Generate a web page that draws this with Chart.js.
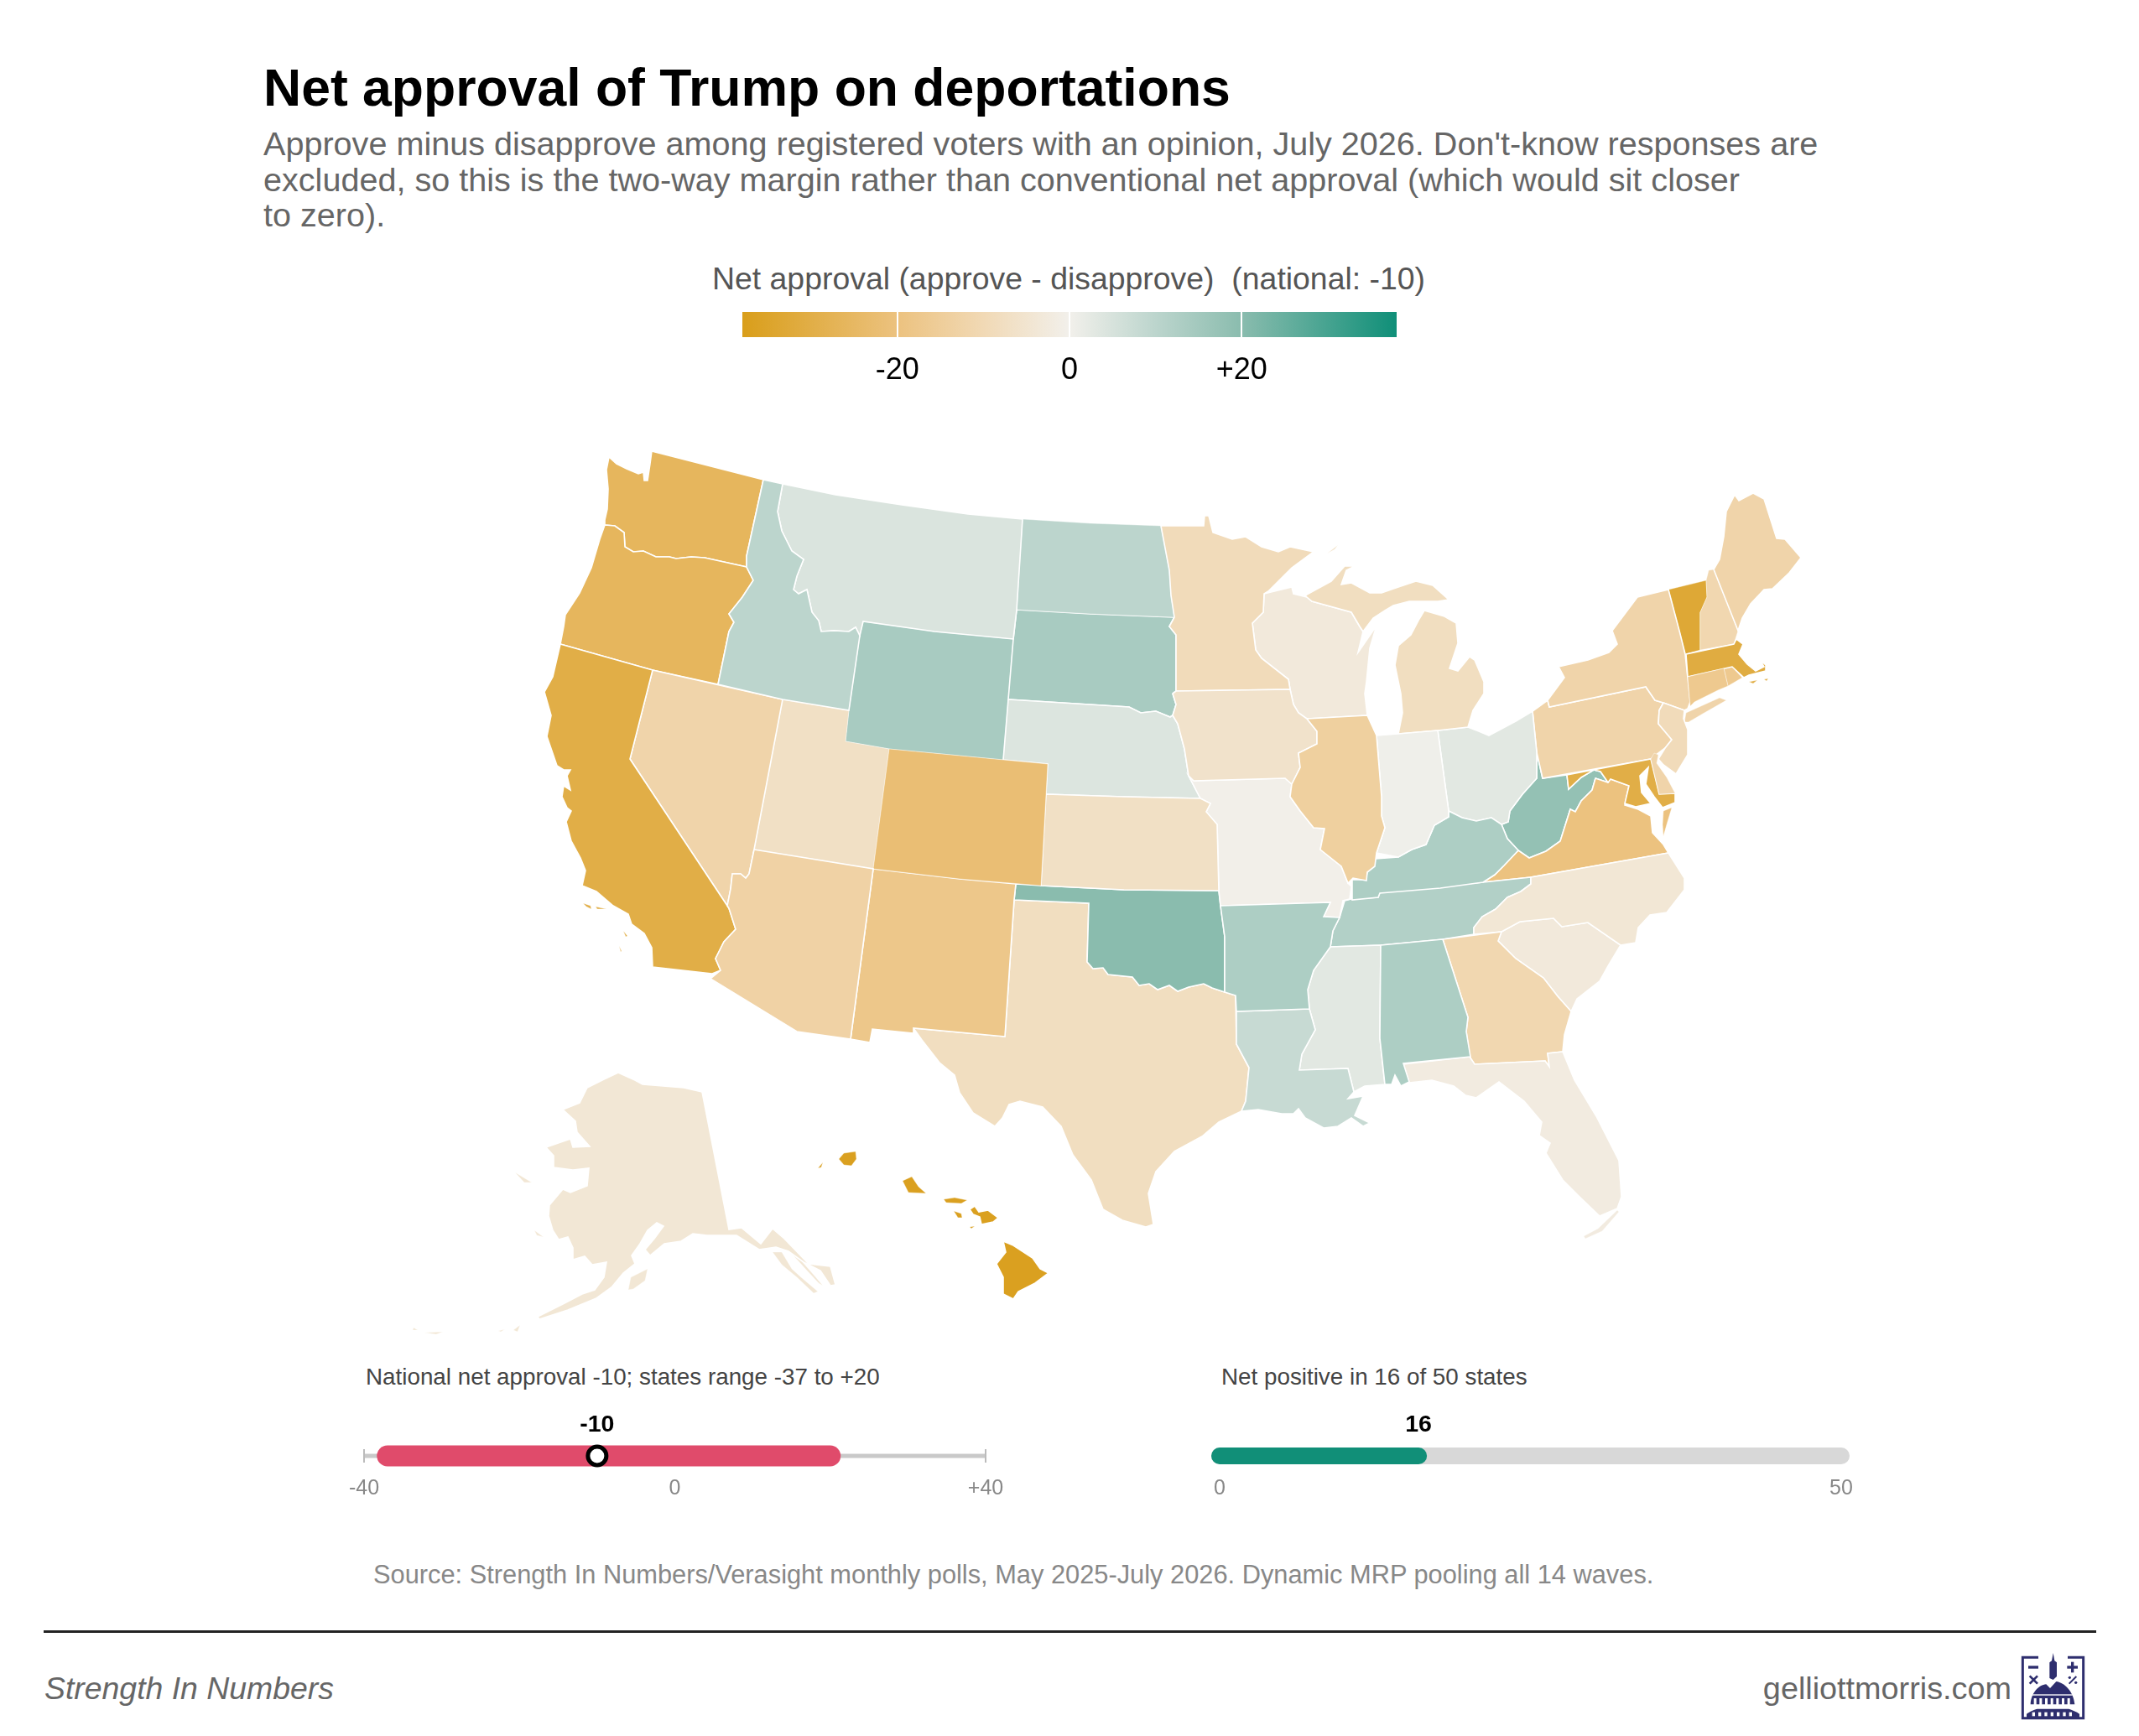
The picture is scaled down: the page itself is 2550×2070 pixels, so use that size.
<!DOCTYPE html>
<html>
<head>
<meta charset="utf-8">
<title>Net approval of Trump on deportations</title>
<script src="https://cdn.jsdelivr.net/npm/chart.js@4"></script>
<style>
html, body { margin: 0; padding: 0; background: #fff; }
body { position: relative; width: 2550px; height: 2070px; overflow: hidden; font-family: "Liberation Sans", Arial, sans-serif; }
canvas { position: absolute; display: block; }
.txt { position: absolute; white-space: pre; line-height: 1; transform: translateY(-50%); }
#title { left: 314px; top: 104px; font-size: 62.5px; font-weight: bold; color: #000; }
.sub { left: 314px; font-size: 39.6px; color: #666; }
#legendTitle { left: 849px; top: 333px; font-size: 37.4px; color: #555; }
.cap { font-size: 27.8px; color: #444; top: 1642px; }
#source { left: 445px; top: 1878px; font-size: 30.8px; color: #888; }
#rule { position: absolute; left: 52px; top: 1944px; width: 2447px; height: 3px; background: #222; }
#brand { left: 53px; top: 2014px; font-size: 37.4px; font-style: italic; color: #666; }
#site { right: 152px; top: 2014px; font-size: 37.8px; color: #666; }
#logo { position: absolute; left: 2410px; top: 1975px; width: 75px; height: 75px; }
</style>
</head>
<body>
<div class="txt" id="title">Net approval of Trump on deportations</div>
<div class="txt sub" style="top:172px">Approve minus disapprove among registered voters with an opinion, July 2026. Don't-know responses are</div>
<div class="txt sub" style="top:215px">excluded, so this is the two-way margin rather than conventional net approval (which would sit closer</div>
<div class="txt sub" style="top:257px">to zero).</div>
<div class="txt" id="legendTitle">Net approval (approve - disapprove)  (national: -10)</div>

<canvas id="legendBar" width="780" height="98" style="left:885px;top:372px"></canvas>
<canvas id="map" width="1800" height="1100" style="left:380px;top:520px"></canvas>

<div class="txt cap" style="left:436px">National net approval -10; states range -37 to +20</div>
<div class="txt cap" style="left:1456px">Net positive in 16 of 50 states</div>
<canvas id="rangeBar" width="861" height="124" style="left:374px;top:1676px"></canvas>
<canvas id="countBar" width="861" height="124" style="left:1394px;top:1676px"></canvas>

<div class="txt" id="source">Source: Strength In Numbers/Verasight monthly polls, May 2025-July 2026. Dynamic MRP pooling all 14 waves.</div>
<div id="rule"></div>
<div class="txt" id="brand">Strength In Numbers</div>
<div class="txt" id="site">gelliottmorris.com</div>
<svg id="logo" viewBox="0 0 225 225" overflow="visible">
  <g fill="#2e2e6e">
    <path d="M60 4H4V221H221V4H165" fill="none" stroke="#2e2e6e" stroke-width="9"/>
    <rect x="24" y="34" width="36" height="10"/>
    <rect x="163" y="34" width="38" height="10"/><rect x="177" y="20" width="10" height="38"/>
    <path d="M29 70l28 28M57 70l-28 28" stroke="#2e2e6e" stroke-width="8"/>
    <path d="M170 98l26-26" stroke="#2e2e6e" stroke-width="6"/><circle cx="172" cy="76" r="5"/><circle cx="194" cy="94" r="5"/>
    <path d="M113-12l5 28 8 6v50l-13 12-13-6V22l8-6z"/>
    <path d="M32 172c2-42 30-70 56-72l14 14 22-24c30 4 62 36 66 82z"/>
    <path d="M18 206c14-10 30-16 38-18h113c10 3 28 10 38 18v13H18z"/>
  </g>
  <g fill="#fff">
    <rect x="44" y="150" width="9" height="30"/><rect x="64" y="150" width="9" height="30"/><rect x="84" y="150" width="9" height="30"/><rect x="104" y="150" width="9" height="30"/><rect x="124" y="150" width="9" height="30"/><rect x="144" y="150" width="9" height="30"/><rect x="164" y="150" width="9" height="30"/>
    <rect x="38" y="136" width="144" height="4"/>
    <rect x="38" y="200" width="10" height="14"/><rect x="60" y="200" width="10" height="14"/><rect x="82" y="200" width="10" height="14"/><rect x="104" y="200" width="10" height="14"/><rect x="126" y="200" width="10" height="14"/><rect x="148" y="200" width="10" height="14"/><rect x="170" y="200" width="10" height="14"/>
  </g>
</svg>

<script>
// net approval per state
var stateNames = ['AL','AK','AZ','AR','CA','CO','CT','DE','FL','GA','HI','ID','IL','IN','IA','KS','KY','LA','ME','MD','MA','MI','MN','MS','MO','MT','NE','NV','NH','NJ','NM','NY','NC','ND','OH','OK','OR','PA','RI','SC','SD','TN','TX','UT','VT','VA','WA','WV','WI','WY'];
var netApproval = [13,-4,-13,13,-30,-22,-17,-12,-2,-11,-37,10,-14,0.5,-6,-7,13,8,-12,-30,-31,-8,-9,3,-0.4,4.5,4,-12,-11,-9,-18,-12,-4,10,3,20,-26,-12,-17,-3,14,12,-8,-7,-33,-20,-26,18,-3,14];

// colour ramp of the legend
var rampValues = [-38,-20,-10,0,10,20,38];
var rampColors = ['#d99e1a','#ecc27f','#f1d9b5','#f2f0eb','#bcd5cd','#8abcae','#0f8f78'];
var legendTicks = [-20,0,20];

// bullet strips
var nationalNet = -10;
var stateRange = [-37,20];
var rangeAxis = [-40,40];
var rangeTicks = [-40,0,40];
var positiveStates = 16;
var stateCount = 50;
var countTicks = [0,50];

// state outlines, flat x,y lists in map units, one list per land piece
var stateOutlines = {
 WA:[[726,545,735,553,747,559,761,565,767,563,768,573,772,573,775,553,777,538,910,572,890,663,890,676,840,665,824,664,806,666,798,664,782,664,767,657,755,658,745,652,744,635,733,627,721,626,721,620,724,607,725,583,723,560]],
 OR:[[721,626,733,627,744,635,745,652,755,658,767,657,782,664,798,664,806,666,824,664,840,665,890,676,898,692,885,712,869,732,875,742,869,753,856,816,778,799,668,768,672,747,674,733,691,707,705,677,715,643]],
 CA:[[668,768,778,799,751,905,867,1080,869,1083,877,1108,863,1123,853,1143,859,1157,849,1161,778,1153,777,1130,768,1113,753,1102,749,1090,731,1080,711,1063,694,1056,698,1038,692,1023,681,1003,675,980,681,967,676,963,670,950,672,937,680,942,676,925,680,918,672,918,664,913,652,878,657,853,649,825,659,807],[695,1077,704,1080,705,1084,699,1081],[710,1081,723,1084,712,1084],[743,1110,748,1116,746,1117],[738,1128,741,1134,740,1135]],
 NV:[[778,799,933,834,899,1013,893,1042,889,1047,883,1042,873,1042,871,1060,867,1080,751,905]],
 ID:[[910,572,933,577,927,610,932,633,944,657,958,667,950,687,946,703,952,708,962,703,968,730,976,740,979,753,994,752,1012,753,1020,748,1025,758,1012,847,933,834,856,816,869,753,875,742,869,732,885,712,898,692,890,676,890,663]],
 MT:[[933,577,996,590,1075,602,1154,613,1219,619,1212,727,1208,762,1114,753,1029,741,1025,758,1020,748,1012,753,994,752,979,753,976,740,968,730,962,703,952,708,946,703,950,687,958,667,944,657,932,633,927,610]],
 WY:[[1029,741,1114,753,1208,762,1196,906,1060,893,1008,884,1012,847,1025,758]],
 UT:[[933,834,1012,847,1008,884,1060,893,1041,1036,899,1013]],
 CO:[[1060,893,1196,906,1249,911,1241,1056,1144,1048,1041,1036]],
 AZ:[[899,1013,1041,1036,1014,1239,950,1230,847,1167,859,1157,853,1143,863,1123,877,1108,869,1083,867,1080,871,1060,873,1042,883,1042,889,1047,893,1042]],
 NM:[[1041,1036,1144,1048,1211,1054,1209,1073,1198,1236,1089,1226,1089,1232,1040,1227,1037,1243,1014,1239]],
 ND:[[1219,619,1300,624,1384,627,1394,680,1396,710,1400,736,1300,732,1212,727]],
 SD:[[1212,727,1300,732,1400,736,1394,747,1402,757,1402,824,1398,827,1402,840,1398,853,1395,855,1378,848,1360,850,1346,843,1202,834,1208,762]],
 NE:[[1202,834,1346,843,1360,850,1378,848,1395,855,1398,853,1404,863,1412,893,1417,925,1431,952,1340,950,1247,947,1249,911,1196,906]],
 KS:[[1247,947,1340,950,1431,952,1443,958,1438,968,1451,983,1453,1062,1340,1061,1241,1056]],
 OK:[[1211,1054,1241,1056,1340,1061,1453,1062,1455,1080,1460,1117,1460,1183,1445,1178,1435,1173,1417,1177,1404,1182,1394,1175,1380,1180,1370,1173,1358,1175,1350,1165,1321,1162,1315,1154,1303,1155,1296,1147,1298,1077,1209,1073]],
 TX:[[1209,1073,1298,1077,1296,1147,1303,1155,1315,1154,1321,1162,1350,1165,1358,1175,1370,1173,1380,1180,1394,1175,1404,1182,1417,1177,1435,1173,1445,1178,1460,1183,1473,1187,1474,1245,1489,1273,1485,1313,1480,1325,1453,1338,1433,1355,1400,1373,1378,1397,1369,1423,1375,1460,1366,1463,1338,1455,1315,1442,1301,1407,1279,1377,1265,1343,1243,1320,1216,1313,1203,1317,1195,1333,1186,1343,1160,1327,1144,1303,1138,1282,1120,1267,1099,1240,1089,1226,1198,1236]],
 MN:[[1384,627,1435,627,1436,615,1441,615,1446,635,1469,643,1485,640,1504,652,1524,658,1538,652,1566,658,1540,677,1512,705,1507,708,1506,730,1493,743,1497,775,1504,785,1536,810,1538,822,1402,824,1402,757,1394,747,1400,736,1396,710,1394,680]],
 IA:[[1398,827,1402,824,1538,822,1542,840,1548,850,1558,857,1570,872,1570,887,1548,898,1550,915,1540,935,1532,928,1423,931,1417,925,1412,893,1404,863,1398,853,1402,840]],
 MO:[[1423,931,1532,928,1540,935,1538,950,1550,967,1566,987,1579,988,1574,1013,1599,1033,1607,1053,1611,1057,1609,1072,1601,1074,1597,1094,1578,1093,1586,1076,1455,1080,1453,1062,1451,983,1438,968,1443,958,1431,952,1417,925]],
 AR:[[1455,1080,1586,1076,1578,1093,1597,1094,1589,1110,1586,1129,1566,1157,1559,1180,1561,1203,1474,1206,1473,1187,1460,1183,1460,1117]],
 LA:[[1474,1206,1561,1203,1568,1228,1552,1257,1549,1276,1607,1274,1614,1302,1607,1310,1625,1307,1615,1330,1633,1339,1625,1343,1611,1333,1595,1343,1578,1345,1556,1333,1548,1322,1542,1328,1528,1328,1500,1323,1480,1325,1485,1313,1489,1273,1474,1245]],
 WI:[[1507,708,1540,700,1542,708,1558,712,1564,717,1611,730,1621,747,1625,753,1619,778,1641,746,1633,773,1629,813,1627,827,1630,853,1558,857,1548,850,1542,840,1538,822,1536,810,1504,785,1497,775,1493,743,1506,730]],
 MI:[[1558,712,1556,710,1587,693,1603,675,1615,675,1605,680,1599,697,1611,695,1633,707,1647,707,1667,700,1688,693,1708,698,1727,715,1714,717,1680,717,1661,722,1651,728,1637,737,1625,753,1621,747,1611,730,1564,717],[1667,770,1663,793,1670,827,1672,850,1667,875,1714,871,1750,867,1756,847,1769,827,1769,813,1758,787,1752,783,1738,800,1728,797,1738,767,1736,743,1722,735,1698,728,1692,738,1682,757],[1582,660,1595,650,1591,655]],
 IL:[[1558,857,1630,853,1641,877,1647,950,1647,973,1651,987,1641,1017,1639,1033,1630,1040,1629,1050,1613,1047,1607,1053,1599,1033,1574,1013,1579,988,1566,987,1550,967,1538,950,1540,935,1550,915,1548,898,1570,887,1570,872]],
 IN:[[1641,877,1667,875,1714,871,1727,967,1727,974,1710,984,1700,1007,1683,1013,1667,1022,1641,1017,1651,987,1647,973,1647,950]],
 OH:[[1714,871,1750,867,1763,872,1775,877,1807,860,1827,848,1832,897,1832,928,1815,947,1800,967,1798,980,1790,983,1778,975,1760,979,1743,975,1727,967]],
 KY:[[1727,967,1743,975,1760,979,1778,975,1790,983,1797,1000,1810,1014,1793,1032,1782,1043,1768,1052,1717,1059,1645,1065,1643,1070,1612,1073,1612,1049,1628,1049,1630,1040,1640,1024,1667,1022,1683,1013,1700,1007,1710,984,1727,974]],
 TN:[[1825,1046,1825,1054,1813,1063,1797,1070,1783,1084,1767,1093,1757,1106,1757,1114,1720,1120,1646,1127,1586,1129,1589,1110,1597,1094,1603,1074,1611,1072,1643,1070,1645,1064,1768,1052]],
 MS:[[1586,1129,1646,1127,1645,1238,1651,1293,1627,1295,1614,1302,1607,1274,1549,1276,1552,1257,1568,1228,1561,1203,1559,1180,1566,1157]],
 AL:[[1646,1127,1720,1120,1750,1213,1748,1230,1753,1260,1673,1268,1680,1290,1670,1295,1663,1282,1659,1293,1651,1293,1645,1238]],
 GA:[[1720,1120,1790,1111,1786,1122,1807,1143,1840,1166,1857,1188,1873,1206,1865,1234,1863,1254,1845,1256,1847,1272,1842,1265,1758,1269,1752,1260,1748,1230,1750,1213]],
 SC:[[1790,1111,1812,1099,1852,1095,1862,1105,1893,1100,1932,1127,1917,1152,1907,1170,1880,1191,1873,1206,1857,1188,1840,1166,1807,1143,1786,1122]],
 NC:[[1989,1017,2008,1047,2008,1061,1987,1088,1967,1091,1953,1106,1950,1124,1932,1127,1893,1100,1862,1105,1852,1095,1812,1099,1790,1111,1757,1114,1757,1106,1767,1093,1783,1084,1797,1070,1813,1063,1825,1054,1825,1046]],
 FL:[[1673,1269,1752,1260,1758,1269,1842,1265,1847,1272,1845,1256,1863,1254,1877,1288,1903,1331,1930,1384,1933,1427,1928,1441,1907,1450,1883,1427,1863,1407,1843,1375,1848,1363,1835,1354,1838,1338,1817,1313,1787,1290,1760,1309,1747,1306,1733,1295,1707,1288,1680,1291],[1928,1443,1905,1465,1888,1474,1890,1477,1910,1468,1930,1445]],
 VA:[[1902,928,1917,933,1920,929,1942,937,1937,960,1953,965,1968,973,1970,993,1983,1007,1989,1017,1825,1046,1768,1052,1782,1043,1793,1032,1810,1014,1823,1023,1843,1015,1860,1003,1872,965,1878,968,1885,955,1898,942],[1983,967,1993,963,1987,983,1983,997,1982,983]],
 WV:[[1832,897,1839,928,1868,924,1870,941,1885,927,1900,918,1908,920,1917,933,1902,928,1898,942,1885,955,1878,968,1872,965,1860,1003,1843,1015,1823,1023,1810,1014,1797,1000,1790,983,1798,980,1800,967,1815,947,1832,928]],
 MD:[[1868,924,1968,905,1978,947,1997,946,1997,957,1982,963,1972,950,1962,935,1965,915,1955,925,1957,945,1968,958,1950,962,1937,958,1942,937,1920,929,1917,933,1908,920,1900,918,1885,927,1870,941]],
 DE:[[1968,905,1972,898,1977,900,1975,910,1987,927,1997,946,1978,947]],
 PA:[[1827,848,1845,835,1847,843,1962,819,1973,835,1983,838,1978,847,1977,863,1993,882,1985,892,1968,905,1839,928,1832,897]],
 NJ:[[1983,838,2008,847,2007,857,2012,870,2012,900,1998,923,1983,912,1977,905,1985,892,1993,882,1977,863,1978,847]],
 NY:[[1845,835,1865,808,1858,795,1893,787,1918,778,1928,768,1922,752,1952,712,1989,703,2002,752,2009,780,2015,837,2012,845,2008,847,1983,838,1973,835,1962,819,1847,843],[2008,861,2010,850,2050,832,2058,835,2030,851,2013,861]],
 CT:[[2012,807,2055,797,2060,818,2048,823,2020,837,2015,842]],
 RI:[[2055,797,2065,795,2077,808,2060,818]],
 MA:[[2010,780,2067,768,2070,762,2078,768,2073,780,2083,792,2093,800,2103,795,2098,787,2105,793,2105,800,2085,805,2079,808,2065,795,2012,807],[2085,813,2095,811,2090,815],[2103,810,2108,809,2106,812]],
 VT:[[1989,703,2034,692,2035,712,2027,730,2027,775,2009,780,2002,752]],
 NH:[[2037,680,2043,679,2072,752,2067,768,2027,775,2027,730,2035,712,2034,692]],
 ME:[[2043,679,2050,667,2055,640,2058,610,2068,590,2073,597,2090,588,2103,595,2118,642,2128,643,2147,665,2133,683,2113,702,2103,703,2087,720,2077,737,2072,752]],
 HI:[[1000,1382,1006,1375,1020,1373,1021,1382,1015,1390,1006,1389],[975,1393,981,1386,979,1392],[1076,1408,1087,1403,1095,1415,1104,1423,1083,1422],[1125,1430,1138,1428,1153,1431,1146,1435,1128,1434],[1137,1444,1146,1447,1147,1452,1142,1452],[1156,1442,1162,1438,1167,1445,1178,1443,1190,1452,1184,1457,1170,1460,1168,1451,1160,1448],[1156,1463,1162,1462,1158,1465],[1196,1480,1208,1485,1231,1500,1240,1513,1250,1518,1234,1530,1214,1540,1208,1549,1196,1543,1196,1523,1188,1507,1199,1493]],
 AK:[[837,1302,869,1466,884,1464,907,1483,921,1465,935,1477,964,1507,990,1510,996,1532,990,1533,978,1515,958,1505,940,1492,925,1487,905,1490,878,1473,843,1473,826,1471,812,1480,792,1483,775,1497,769,1490,780,1477,791,1462,783,1458,772,1467,763,1483,753,1497,757,1507,743,1518,729,1535,711,1548,694,1555,677,1562,643,1573,641,1570,671,1555,694,1543,709,1538,720,1523,723,1505,706,1508,697,1498,683,1502,683,1488,677,1475,666,1478,659,1467,654,1450,655,1437,671,1418,680,1422,700,1414,702,1393,683,1395,660,1392,660,1378,651,1368,680,1358,683,1368,703,1367,688,1350,686,1337,671,1323,691,1315,700,1297,720,1287,737,1279,757,1288,766,1293,815,1297],[921,1493,932,1493,944,1513,955,1523,975,1540,970,1542,950,1523,932,1508],[944,1495,955,1503,970,1520,981,1533,976,1530,962,1515],[749,1538,752,1523,772,1513,769,1527,755,1537],[614,1398,634,1410,625,1410],[637,1467,648,1475,640,1473],[620,1580,617,1588,612,1586],[602,1585,597,1588,594,1587],[528,1588,520,1591,506,1589],[493,1583,498,1586,492,1586]]
};

function hexToRgb(hex) {
    return [1,3,5].map(function(i) { return parseInt(hex.substr(i,2),16); });
}

// linear ramp between the legend's stops
function rampColor(v) {
    for (var i = 0; i < rampValues.length - 1; i++) {
        if (v <= rampValues[i+1]) {
            var t = (v - rampValues[i]) / (rampValues[i+1] - rampValues[i]);
            var a = hexToRgb(rampColors[i]), b = hexToRgb(rampColors[i+1]);
            return 'rgb(' + a.map(function(c,k) { return Math.round(c + (b[k]-c)*t); }).join(',') + ')';
        }
    }
    return rampColors[rampColors.length-1];
}

function signed(v) { return v > 0 ? '+' + v : String(v); }

Chart.defaults.font.family = '"Liberation Sans", Arial, sans-serif';
Chart.defaults.animation = false;
Chart.defaults.responsive = false;
Chart.defaults.devicePixelRatio = 1;
Chart.defaults.plugins.legend.display = false;
Chart.defaults.plugins.tooltip.enabled = false;

// map: one closed filled line per land piece
var mapDatasets = [];
stateNames.forEach(function(name, i) {
    stateOutlines[name].forEach(function(ring) {
        var pts = [];
        for (var k = 0; k < ring.length; k += 2) pts.push({x: ring[k], y: ring[k+1]});
        pts.push(pts[0]);
        mapDatasets.push({
            label: name,
            data: pts,
            showLine: true,
            fill: 'shape',
            backgroundColor: rampColor(netApproval[i]),
            borderColor: '#ffffff',
            borderWidth: pts.length < 10 ? 0.4 : 1.6,
            pointRadius: 0,
            tension: 0
        });
    });
});

new Chart(document.getElementById('map'), {
    type: 'scatter',
    data: {datasets: mapDatasets},
    options: {
        layout: {padding: 0},
        scales: {
            x: {type: 'linear', min: 380, max: 2180, display: false},
            y: {type: 'linear', min: 520, max: 1620, reverse: true, display: false}
        }
    }
});

// legend colour bar
new Chart(document.getElementById('legendBar'), {
    type: 'bar',
    data: {
        labels: ['net'],
        datasets: [{
            data: [[rampValues[0], rampValues[rampValues.length-1]]],
            barPercentage: 1,
            categoryPercentage: 1,
            backgroundColor: function(context) {
                var chart = context.chart;
                if (!chart.chartArea) return rampColors[0];
                var g = chart.ctx.createLinearGradient(chart.chartArea.left, 0, chart.chartArea.right, 0);
                rampValues.forEach(function(v, i) {
                    g.addColorStop((v - rampValues[0]) / (rampValues[rampValues.length-1] - rampValues[0]), rampColors[i]);
                });
                return g;
            }
        }]
    },
    options: {
        indexAxis: 'y',
        layout: {padding: 0},
        scales: {
            x: {
                min: rampValues[0],
                max: rampValues[rampValues.length-1],
                afterBuildTicks: function(axis) { axis.ticks = legendTicks.map(function(v) { return {value: v}; }); },
                afterFit: function(axis) { axis.height = 68; },
                border: {display: false},
                grid: {color: '#ffffff', lineWidth: 2, z: 1, drawTicks: false},
                ticks: {
                    color: '#000',
                    font: {size: 36},
                    padding: 18,
                    maxRotation: 0,
                    autoSkip: false,
                    callback: function(v) { return signed(v); }
                }
            },
            y: {display: false}
        }
    }
});

// number above a strip's marker
var valueLabel = {
    id: 'valueLabel',
    afterDraw: function(chart, args, opts) {
        var ctx = chart.ctx;
        ctx.save();
        ctx.font = 'bold 28.5px "Liberation Sans", Arial, sans-serif';
        ctx.fillStyle = '#000';
        ctx.textAlign = 'center';
        ctx.textBaseline = 'middle';
        ctx.fillText(opts.text, chart.scales.x.getPixelForValue(opts.value), chart.scales.y.getPixelForValue(0) - 37);
        ctx.restore();
    }
};

function stripOptions(min, max, ticks, label, value, tickLabel) {
    return {
        layout: {padding: {left: 60, right: 60, top: 36, bottom: 0}},
        plugins: {valueLabel: {text: label, value: value}},
        scales: {
            x: {
                type: 'linear', min: min, max: max,
                afterBuildTicks: function(axis) { axis.ticks = ticks.map(function(v) { return {value: v}; }); },
                afterFit: function(axis) { axis.height = 40; },
                border: {display: false},
                grid: {display: false, drawTicks: false},
                ticks: {
                    color: '#888',
                    font: {size: 25},
                    padding: 0,
                    maxRotation: 0,
                    autoSkip: false,
                    callback: tickLabel
                }
            },
            y: {type: 'linear', min: -1, max: 1, display: false}
        }
    };
}

function stripLine(a, b, color, width, cap) {
    return {
        data: [{x: a, y: 0}, {x: b, y: 0}],
        showLine: true,
        borderColor: color,
        borderWidth: width,
        borderCapStyle: cap,
        pointRadius: 0,
        clip: false
    };
}

// national net approval and state range
new Chart(document.getElementById('rangeBar'), {
    type: 'scatter',
    plugins: [valueLabel],
    data: {datasets: [
        {data: [{x: nationalNet, y: 0}], pointRadius: 11, pointBorderWidth: 5, pointBorderColor: '#000', pointBackgroundColor: '#fff', clip: false},
        stripLine(stateRange[0], stateRange[1], '#e04b6b', 25, 'round'),
        {data: [{x: rangeAxis[0], y: 0}, {x: rangeAxis[1], y: 0}], pointStyle: 'line', rotation: 90, pointRadius: 8, pointBorderWidth: 2, pointBorderColor: '#bbb', clip: false},
        stripLine(rangeAxis[0], rangeAxis[1], '#c9c9c9', 5, 'butt')
    ]},
    options: stripOptions(rangeAxis[0], rangeAxis[1], rangeTicks, signed(nationalNet), nationalNet, function(v) { return signed(v); })
});

// states above zero
new Chart(document.getElementById('countBar'), {
    type: 'scatter',
    plugins: [valueLabel],
    data: {datasets: [
        stripLine(0, positiveStates, '#118f78', 20, 'round'),
        stripLine(0, stateCount, '#d8d8d8', 20, 'round')
    ]},
    options: stripOptions(0, stateCount, countTicks, String(positiveStates), positiveStates, function(v) { return String(v); })
});
</script>
</body>
</html>
